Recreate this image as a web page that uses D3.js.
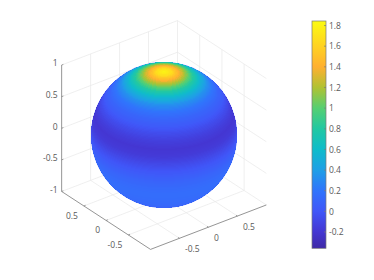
<!DOCTYPE html>
<html>
<head>
<meta charset="utf-8">
<script src="https://cdn.jsdelivr.net/npm/d3@7"></script>
<style>
  html, body { margin: 0; padding: 0; background: #fff; }
  svg { display: block; }
  text { font-family: "Open Sans", sans-serif; font-size: 8.5px; fill: #595959; }
</style>
</head>
<body>
<script>
const boxTicks = [-0.5, 0, 0.5];
const zTicks = [-1, -0.5, 0, 0.5, 1];
const barTicks = [-0.2, 0, 0.2, 0.4, 0.6, 0.8, 1, 1.2, 1.4, 1.6, 1.8];
// colormap as seen on the colorbar
const colorValues = [-0.358, -0.2, 0, 0.2, 0.4, 0.6, 0.8, 1, 1.2, 1.4, 1.6, 1.844];
const colorStops = ["#3f2aa6", "#4436d2", "#4056f8", "#3074fc", "#1f9fe6", "#0fbcca", "#22c8a2", "#55cf72", "#b0c232", "#ffb030", "#ffd222", "#fbfb12"];
const colatitudes = [0, 6, 12, 18, 24, 30, 36, 42, 48, 54, 60, 66, 72, 78, 84, 90, 96, 102, 108, 114, 120, 126, 132, 138, 144, 150, 156, 162, 168, 174, 180];
const fieldValues = [1.82, 1.68, 1.42, 1.12, 0.8, 0.55, 0.34, 0.2, 0.1, 0.03, -0.07, -0.15, -0.2, -0.17, -0.09, -0.01, 0.05, 0.1, 0.13, 0.15, 0.15, 0.14, 0.13, 0.11, 0.09, 0.07, 0.05, 0.04, 0.03, 0.03, 0.03];

const width = 374, height = 280;
const svg = d3.select("body").append("svg").attr("width", width).attr("height", height);

const color = d3.scaleLinear().domain(colorValues).range(colorStops);

// box projection, view(-37.5, 30) with the plot centred on the sphere
const cx = 164, cy = 135, unit = 73;
const az = 37.5 * Math.PI / 180, el = 30 * Math.PI / 180;
const uX = d3.scaleLinear([-1, 1], [-unit * Math.cos(az), unit * Math.cos(az)]);
const uY = d3.scaleLinear([-1, 1], [unit * Math.sin(az) * Math.sin(el), -unit * Math.sin(az) * Math.sin(el)]);
const vX = d3.scaleLinear([-1, 1], [unit * Math.sin(az), -unit * Math.sin(az)]);
const vY = d3.scaleLinear([-1, 1], [unit * Math.cos(az) * Math.sin(el), -unit * Math.cos(az) * Math.sin(el)]);
const zY = d3.scaleLinear([-1, 1], [unit * Math.cos(el), -unit * Math.cos(el)]);
const project = (u, v, z) => [cx + uX(u) + vX(v), cy + uY(u) + vY(v) + zY(z)];

const segment = (a, b, stroke, w) => svg.append("line")
  .attr("x1", project(...a)[0]).attr("y1", project(...a)[1])
  .attr("x2", project(...b)[0]).attr("y2", project(...b)[1])
  .attr("stroke", stroke).attr("stroke-width", w);

const gridColor = "#e8e8e8", axisColor = "#7a7a7a";

// grid on the floor and both back walls
boxTicks.forEach(t => {
  segment([t, -1, -1], [t, 1, -1], gridColor, 0.7);
  segment([-1, t, -1], [1, t, -1], gridColor, 0.7);
  segment([t, 1, -1], [t, 1, 1], gridColor, 0.7);
  segment([1, t, -1], [1, t, 1], gridColor, 0.7);
});
zTicks.forEach(z => {
  segment([-1, 1, z], [1, 1, z], gridColor, 0.7);
  segment([1, 1, z], [1, -1, z], gridColor, 0.7);
});
segment([1, 1, -1], [1, 1, 1], gridColor, 0.7);

// axis lines
segment([-1, 1, -1], [-1, 1, 1], axisColor, 0.8);
segment([-1, 1, -1], [-1, -1, -1], axisColor, 0.8);
segment([-1, -1, -1], [1, -1, -1], axisColor, 0.8);

// tick marks and labels
zTicks.forEach(z => {
  segment([-1, 1, z], [-0.97, 1, z], axisColor, 0.7);
  const p = project(-1, 1, z);
  svg.append("text").attr("x", p[0] - 4).attr("y", p[1] - 1)
    .attr("text-anchor", "end").attr("dominant-baseline", "middle").text(z);
});
boxTicks.forEach(t => {
  segment([-1, t, -1], [-0.97, t, -1], axisColor, 0.7);
  segment([t, -1, -1], [t, -0.97, -1], axisColor, 0.7);
  const a = project(-1, t, -1);
  svg.append("text").attr("x", a[0] - 6).attr("y", a[1] + 13).attr("text-anchor", "end").text(t);
  const b = project(t, -1, -1);
  svg.append("text").attr("x", b[0] + 5.5).attr("y", b[1] + 14).attr("text-anchor", "start").text(t);
});

// sphere, painted as shrinking caps round the north pole
const projection = d3.geoOrthographic().scale(unit).translate([cx, cy]).rotate([0, -30]).clipAngle(90).precision(0.2);
const geoPath = d3.geoPath(projection);
const fieldAt = d3.scaleLinear(colatitudes, fieldValues);
svg.append("path").datum({ type: "Sphere" }).attr("d", geoPath).attr("fill", color(fieldAt(180)));
d3.range(179, 0, -1).forEach(c => {
  svg.append("path")
    .datum(d3.geoCircle().center([0, 90]).radius(c).precision(2)())
    .attr("d", geoPath)
    .attr("shape-rendering", "crispEdges")
    .attr("fill", color(fieldAt(c)));
});

// colorbar
const barY = d3.scaleLinear([-0.358, 1.844], [248.3, 21]);
const barX = 312, barW = 14;
const defs = svg.append("defs");
const grad = defs.append("linearGradient").attr("id", "parula").attr("x1", 0).attr("y1", 1).attr("x2", 0).attr("y2", 0);
colorStops.forEach((c, i) => grad.append("stop")
  .attr("offset", (colorValues[i] + 0.358) / (1.844 + 0.358))
  .attr("stop-color", c));
svg.append("rect").attr("x", barX).attr("y", barY.range()[1]).attr("width", barW)
  .attr("height", barY.range()[0] - barY.range()[1])
  .attr("fill", "url(#parula)").attr("stroke", axisColor).attr("stroke-width", 0.7);

const barAxis = d3.axisRight(barY).tickValues(barTicks).tickSize(0).tickPadding(3).tickFormat(d => d);
const barG = svg.append("g").attr("transform", `translate(${barX + barW},0)`).call(barAxis);
barG.select(".domain").remove();
barG.selectAll("text").attr("font-family", null).attr("font-size", null);
barTicks.forEach(t => svg.append("line").attr("x1", barX + barW - 2).attr("x2", barX + barW)
  .attr("y1", barY(t)).attr("y2", barY(t)).attr("stroke", axisColor).attr("stroke-width", 0.7));
</script>
</body>
</html>
